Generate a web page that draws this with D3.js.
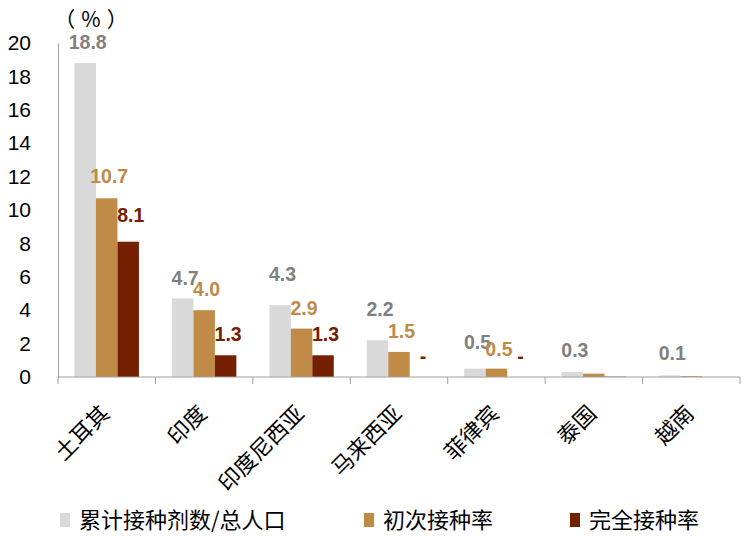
<!DOCTYPE html>
<html>
<head>
<meta charset="utf-8">
<script src="https://cdn.jsdelivr.net/npm/d3@7"></script>
<style>
  body { margin: 0; background: #fff; }
  text { font-family: "Liberation Sans", Arial, sans-serif; }
  .cjk { font-family: "Noto Sans CJK SC", sans-serif; }
</style>
</head>
<body>
<div id="chart"></div>
<script>
var categories = ["土耳其", "印度", "印度尼西亚", "马来西亚", "菲律宾", "泰国", "越南"];
var seriesNames = ["累计接种剂数/总人口", "初次接种率", "完全接种率"];
var cumulative = [18.8, 4.7, 4.3, 2.2, 0.5, 0.3, 0.1];
var firstDose = [10.7, 4.0, 2.9, 1.5, 0.5, 0.2, 0.05];
var fullDose = [8.1, 1.3, 1.3, null, null, 0.02, null];
// which values carry a text label (null bars show "-")
var showLabel = [
    [true, true, true, true, true, true, true],
    [true, true, true, true, true, false, false],
    [true, true, true, true, true, false, false]
];
var yTicks = [0, 2, 4, 6, 8, 10, 12, 14, 16, 18, 20];

var colors = ["#d9d9d9", "#bf8b47", "#742000"];
var labelColors = ["#808080", "#bf8b47", "#742000"];
// extra lift for some labels so they don't collide
var labelLift = [
    [0, 0, 10, 10, 6, 1, 1],
    [1, 0, 0, 0, -1, 0, 0],
    [6, 0, 0, 0, 0, 0, 0]
];

var width = 749, height = 538;
var margin = {top: 43, right: 9, bottom: 161, left: 58};

var svg = d3.select("#chart")
    .append("svg")
    .attr("width", width)
    .attr("height", height);

var series = [cumulative, firstDose, fullDose];

var x0 = d3.scaleBand()
    .domain(categories)
    .range([margin.left, width - margin.right])
    .padding(0);

var x1 = d3.scaleBand()
    .domain([0, 1, 2])
    .range([16.5, x0.bandwidth() - 16.5])
    .padding(0);

var y = d3.scaleLinear()
    .domain([0, 20])
    .range([height - margin.bottom, margin.top]);

// y axis
var yAxis = svg.append("g")
    .attr("transform", "translate(" + margin.left + ",0)")
    .call(d3.axisLeft(y).tickValues(yTicks).tickSize(0).tickPadding(27));
yAxis.select(".domain").attr("stroke", "#a0a0a0");
yAxis.selectAll("text")
    .style("font-size", "21px")
    .style("font-family", "'Liberation Sans', Arial, sans-serif")
    .attr("fill", "#000");

svg.append("text")
    .attr("class", "cjk")
    .attr("x", 94)
    .attr("y", 27)
    .attr("text-anchor", "middle")
    .style("font-size", "21px")
    .style("letter-spacing", "6px")
    .text("（%）");

// bars
var groups = svg.selectAll(".group")
    .data(categories)
    .enter().append("g")
    .attr("class", "group")
    .attr("transform", function(d) { return "translate(" + x0(d) + ",0)"; });

groups.selectAll("rect")
    .data(function(d, i) {
        return series.map(function(s, k) { return {k: k, v: s[i], i: i}; });
    })
    .enter().append("rect")
    .filter(function(d) { return d.v != null; })
    .attr("x", function(d) { return x1(d.k); })
    .attr("width", x1.bandwidth())
    .attr("y", function(d) { return y(d.v); })
    .attr("height", function(d) { return y(0) - y(d.v); })
    .attr("fill", function(d) { return colors[d.k]; });

groups.selectAll(".lbl")
    .data(function(d, i) {
        return series.map(function(s, k) { return {k: k, v: s[i], i: i}; });
    })
    .enter().append("text")
    .filter(function(d) { return showLabel[d.k][d.i]; })
    .attr("class", "lbl")
    .attr("x", function(d) { return x1(d.k) + x1.bandwidth() / 2 + 2.5; })
    .attr("y", function(d) { return y(d.v == null ? 0 : d.v) - 14 - labelLift[d.k][d.i]; })
    .attr("text-anchor", "middle")
    .style("font-size", "19.5px")
    .style("font-weight", "bold")
    .attr("fill", function(d) { return labelColors[d.k]; })
    .text(function(d) { return d.v == null ? "-" : d3.format(".1f")(d.v); });

// x axis
var xAxis = svg.append("g");
xAxis.append("line")
    .attr("x1", margin.left)
    .attr("x2", width - margin.right)
    .attr("y1", y(0))
    .attr("y2", y(0))
    .attr("stroke", "#a0a0a0");
xAxis.selectAll(".tick")
    .data(categories.map(function(c) { return x0(c); }).concat([x0.range()[1]]))
    .enter().append("line")
    .attr("x1", function(d) { return d; })
    .attr("x2", function(d) { return d; })
    .attr("y1", y(0))
    .attr("y2", y(0) + 7)
    .attr("stroke", "#a0a0a0");

xAxis.selectAll(".xl")
    .data(categories)
    .enter().append("text")
    .attr("class", "cjk")
    .attr("text-anchor", "end")
    .attr("transform", function(d) {
        return "translate(" + (x0(d) + x0.bandwidth() / 2 + 4) + "," + (y(0) + 38) + ") rotate(-45)";
    })
    .style("font-size", "22px")
    .text(function(d) { return d; });

// legend
var legendX = [60, 364, 570];
var legend = svg.selectAll(".legend")
    .data(seriesNames)
    .enter().append("g")
    .attr("class", "legend")
    .attr("transform", function(d, i) { return "translate(" + legendX[i] + ",513)"; });

legend.append("rect")
    .attr("width", 10)
    .attr("height", 14)
    .attr("fill", function(d, i) { return colors[i]; });

legend.append("text")
    .attr("class", "cjk")
    .attr("x", 19)
    .attr("y", 15)
    .style("font-size", "22px")
    .text(function(d) { return d; });
</script>
</body>
</html>
